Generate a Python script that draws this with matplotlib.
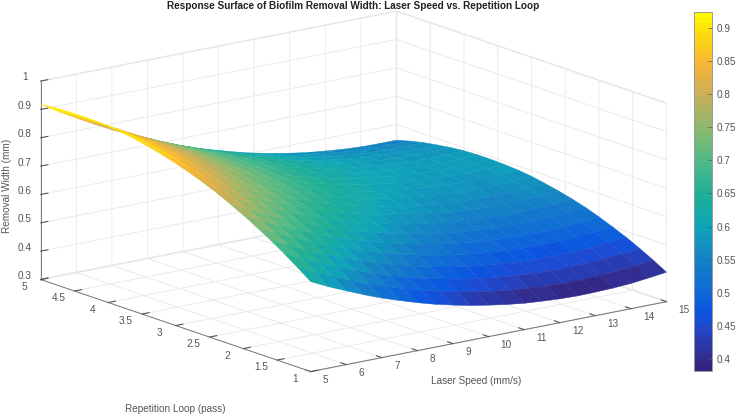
import numpy as np
import matplotlib
matplotlib.use('Agg')
import matplotlib.pyplot as plt
from matplotlib.colors import LinearSegmentedColormap, to_rgb

plt.rcParams['font.family'] = ['Liberation Sans', 'DejaVu Sans']

# laser speed (mm/s) across, repetition loop (pass) down
speed = [5, 5.5, 6, 6.5, 7, 7.5, 8, 8.5, 9, 9.5, 10, 10.5, 11, 11.5, 12, 12.5, 13, 13.5, 14, 14.5, 15]
passes = [1, 1.2, 1.4, 1.6, 1.8, 2, 2.2, 2.4, 2.6, 2.8, 3, 3.2, 3.4, 3.6, 3.8, 4, 4.2, 4.4, 4.6, 4.8, 5]
width = [
    [.617, .587, .560, .534, .510, .489, .469, .451, .436, .422, .411, .401, .393, .388, .384, .382, .383, .385, .389, .396, .404],
    [.652, .622, .594, .568, .544, .522, .502, .484, .468, .454, .442, .432, .423, .417, .413, .411, .411, .413, .417, .423, .431],
    [.685, .655, .626, .600, .575, .553, .532, .514, .497, .483, .470, .460, .452, .445, .441, .438, .438, .439, .443, .448, .456],
    [.716, .685, .656, .629, .604, .582, .561, .542, .525, .510, .497, .486, .478, .471, .466, .463, .462, .463, .466, .472, .479],
    [.744, .713, .684, .657, .631, .608, .587, .568, .550, .535, .522, .511, .501, .494, .489, .486, .484, .485, .488, .493, .499],
    [.771, .739, .710, .682, .656, .633, .611, .592, .574, .558, .545, .533, .523, .516, .510, .506, .505, .505, .507, .512, .518],
    [.795, .764, .733, .705, .679, .655, .633, .613, .595, .579, .565, .553, .543, .535, .529, .525, .523, .523, .525, .529, .535],
    [.818, .786, .755, .727, .700, .676, .653, .633, .614, .598, .583, .571, .561, .552, .546, .541, .539, .538, .540, .543, .549],
    [.838, .805, .775, .746, .719, .694, .671, .650, .631, .615, .600, .587, .576, .567, .560, .556, .553, .552, .553, .556, .561],
    [.856, .823, .792, .763, .735, .710, .687, .666, .646, .629, .614, .601, .589, .580, .573, .568, .564, .563, .564, .567, .571],
    [.872, .839, .807, .778, .750, .724, .701, .679, .659, .642, .626, .612, .601, .591, .583, .578, .574, .573, .573, .575, .580],
    [.886, .853, .820, .790, .762, .736, .712, .690, .670, .652, .636, .622, .610, .600, .592, .586, .582, .580, .580, .582, .586],
    [.898, .864, .832, .801, .773, .746, .722, .699, .679, .660, .644, .630, .617, .607, .598, .592, .587, .585, .584, .586, .589],
    [.908, .873, .841, .810, .781, .754, .729, .706, .685, .667, .650, .635, .622, .611, .602, .596, .591, .588, .587, .588, .591],
    [.916, .881, .847, .816, .787, .760, .734, .711, .690, .671, .653, .638, .625, .614, .604, .597, .592, .589, .587, .588, .591],
    [.921, .886, .852, .821, .791, .763, .738, .714, .692, .673, .655, .639, .626, .614, .604, .597, .591, .588, .586, .586, .589],
    [.925, .889, .855, .823, .793, .765, .739, .715, .693, .673, .655, .639, .624, .612, .602, .594, .588, .584, .582, .582, .584],
    [.926, .890, .856, .823, .793, .764, .738, .713, .691, .670, .652, .636, .621, .609, .598, .590, .583, .579, .576, .576, .577],
    [.925, .889, .854, .821, .790, .762, .735, .710, .687, .666, .647, .630, .616, .603, .592, .583, .576, .571, .568, .568, .569],
    [.923, .886, .850, .817, .786, .757, .729, .704, .681, .660, .640, .623, .608, .595, .583, .574, .567, .562, .558, .557, .558],
    [.918, .880, .845, .811, .779, .750, .722, .697, .673, .651, .632, .614, .598, .585, .573, .563, .556, .550, .546, .545, .545],
]
speed_ticks = [5, 6, 7, 8, 9, 10, 11, 12, 13, 14, 15]
pass_ticks = [1, 1.5, 2, 2.5, 3, 3.5, 4, 4.5, 5]
pass_labels = ['1', '1.5', '2', '2.5', '3', '3.5', '4', '4.5', '5']
width_ticks = [.3, .4, .5, .6, .7, .8, .9, 1]
width_labels = ['0.3', '0.4', '0.5', '0.6', '0.7', '0.8', '0.9', '1']
cbar_ticks = [.4, .45, .5, .55, .6, .65, .7, .75, .8, .85, .9]
cbar_labels = ['0.4', '0.45', '0.5', '0.55', '0.6', '0.65', '0.7', '0.75', '0.8', '0.85', '0.9']

vmin, vmax = .382, .924
cmap_levels = [.382, .4, .45, .47, .5, .55, .6, .65, .7, .75, .8, .85, .9, .924]
cmap_colors = ['#32237f', '#322d91', '#1e4bd2', '#0a55e1', '#0f69d7', '#1482c3', '#0fa5b9',
               '#1eaf96', '#50b987', '#8cb96e', '#c8af5a', '#fab432', '#fce10a', '#fffa00']
parula = LinearSegmentedColormap.from_list(
    'parula', [((v - vmin) / (vmax - vmin), to_rgb(c)) for v, c in zip(cmap_levels, cmap_colors)], N=64)

W, H = 735, 416
fig = plt.figure(figsize=(W / 100, H / 100), dpi=100)
ax = fig.add_axes([140 / W, 11 / H, 416 / W, 416 / H], projection='3d', computed_zorder=False)
ax.set_proj_type('ortho')
ax.view_init(elev=15, azim=-127.2)
ax.set_box_aspect((1, 1, .46), zoom=1.55)

X, Y = np.meshgrid(speed, passes)
surf = ax.plot_surface(X, Y, np.array(width), rstride=1, cstride=1, cmap=parula,
                       vmin=vmin, vmax=vmax, linewidth=.3,
                       antialiased=True, shade=False)
surf.set_edgecolor('face')
surf.set_clip_on(False)

ax.set_xlim(5, 15)
ax.set_ylim(1, 5)
ax.set_zlim(.3, 1)
ax.set_xticks(speed_ticks)
ax.set_yticks(pass_ticks)
ax.set_yticklabels(pass_labels)
ax.set_zticks(width_ticks)
ax.set_zticklabels(width_labels)
ax.tick_params(labelsize=7.2, labelcolor='#555555', color='#555555')
ax.tick_params(axis='x', pad=-1)
ax.tick_params(axis='y', pad=-1)
ax.tick_params(axis='z', pad=-4)
for lab in ax.get_xticklabels():
    lab.set_ha('left')
    lab.set_va('bottom')
for lab in ax.get_yticklabels():
    lab.set_va('bottom')
for lab in ax.get_zticklabels():
    lab.set_va('baseline')

for axis in (ax.xaxis, ax.yaxis, ax.zaxis):
    axis.set_pane_color((1, 1, 1, 1))
    axis.pane.set_edgecolor('#e6e6e6')
    axis.line.set_color('#777777')
    axis.line.set_linewidth(.7)
    axis._axinfo['grid'].update(color='#e8e8e8', linewidth=.6)
    axis._axinfo['tick']['inward_factor'] = 0
    axis._axinfo['tick']['outward_factor'] = .25

fig.text(353.5 / W, 1 - 6 / H, 'Response Surface of Biofilm Removal Width: Laser Speed vs. Repetition Loop',
         ha='center', va='center', fontsize=7.2, fontweight='bold', color='#222222')
fig.text(476 / W, 1 - 381 / H, 'Laser Speed (mm/s)', ha='center', va='center', fontsize=7.2, color='#555555')
fig.text(175 / W, 1 - 409 / H, 'Repetition Loop (pass)', ha='center', va='center', fontsize=7.2, color='#555555')
fig.text(7 / W, 1 - 186 / H, 'Removal Width (mm)', ha='center', va='center', rotation=90, fontsize=7.2, color='#555555')

cax = fig.add_axes([693.5 / W, 1 - 371 / H, 18.5 / W, 359 / H])
cb = fig.colorbar(surf, cax=cax)
cb.set_ticks(cbar_ticks)
cb.set_ticklabels(cbar_labels)
cb.ax.tick_params(direction='in', length=3, width=.5, color='#555555', labelsize=7.2, labelcolor='#555555', pad=3)
cb.outline.set_edgecolor('#999999')
cb.outline.set_linewidth(.7)

fig.savefig('out.png', dpi=100)
